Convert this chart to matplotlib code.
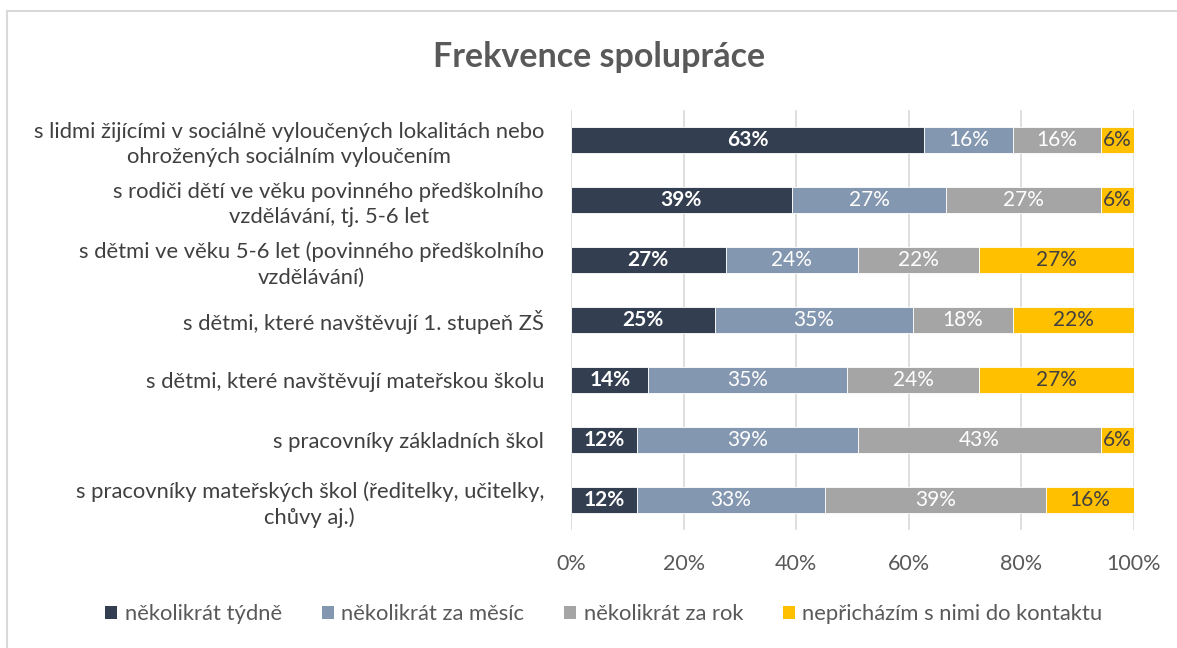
import matplotlib
matplotlib.use("Agg")
import matplotlib.pyplot as plt
from matplotlib.lines import Line2D
from matplotlib.patches import Patch

plt.rcParams['font.family'] = ['Lato', 'DejaVu Sans']

categories = [
    "s lidmi žijícími v sociálně vyloučených lokalitách nebo\nohrožených sociálním vyloučením",
    "s rodiči dětí ve věku povinného předškolního\nvzdělávání, tj. 5-6 let",
    "s dětmi ve věku 5-6 let (povinného předškolního\nvzdělávání)",
    "s dětmi, které navštěvují 1. stupeň ZŠ",
    "s dětmi, které navštěvují mateřskou školu",
    "s pracovníky základních škol",
    "s pracovníky mateřských škol (ředitelky, učitelky,\nchůvy aj.)",
]
series_names = ["několikrát týdně", "několikrát za měsíc", "několikrát za rok",
                "nepřicházím s nimi do kontaktu"]
tydne  = [62.75, 39.22, 27.45, 25.49, 13.73, 11.76, 11.76]
mesic  = [15.69, 27.45, 23.53, 35.29, 35.29, 39.22, 33.33]
rok    = [15.69, 27.45, 21.57, 17.65, 23.53, 43.14, 39.22]
nikdy  = [5.88, 5.88, 27.45, 21.57, 27.45, 5.88, 15.69]
xticks = [0, 20, 40, 60, 80, 100]
xticklabels = ["0%", "20%", "40%", "60%", "80%", "100%"]

colors = ["#333F50", "#8497B0", "#A5A5A5", "#FFC000"]
label_colors = ["white", "white", "white", "#404040"]
label_weights = ["bold", "normal", "normal", "normal"]

fig = plt.figure(figsize=(11.77, 6.48), dpi=100)
ax = fig.add_axes([571/1177, 1 - 530/648, (1134-571)/1177, 420/648])

ypos = list(range(len(categories)))
left = [0.0] * len(categories)
for vals, col, lc, lw in zip([tydne, mesic, rok, nikdy], colors, label_colors, label_weights):
    bars = ax.barh(ypos, vals, left=left, height=0.42, color=col, edgecolor="white",
                   linewidth=0.6, zorder=3)
    for b, v in zip(bars, vals):
        ax.text(b.get_x() + b.get_width() / 2, b.get_y() + b.get_height() / 2,
                f"{v:.0f}%", ha="center", va="center", color=lc, fontsize=15,
                fontweight=lw, zorder=4)
    left = [l + v for l, v in zip(left, vals)]

ax.set_xlim(0, 100)
ax.set_ylim(len(categories) - 0.5, -0.5)
ax.set_xticks(xticks)
ax.set_xticklabels(xticklabels, color="#595959", fontsize=15.5)
ax.set_yticks(ypos)
ax.set_yticklabels(categories, color="#404040", fontsize=15.8, ha="right",
                   multialignment="center", linespacing=1.32)
ax.tick_params(axis="y", length=0, pad=19.5)
ax.tick_params(axis="x", length=0, pad=17)
ax.grid(axis="x", color="#D9D9D9", linewidth=1.2, zorder=0)
for s in ax.spines.values():
    s.set_visible(False)

fig.text(599/1177, 1 - 57/648, "Frekvence spolupráce", ha="center", va="center",
         fontsize=24.5, fontweight="bold", color="#595959")

handles = [Patch(facecolor=c, edgecolor="none") for c in colors]
fig.legend(handles, series_names, loc="center", bbox_to_anchor=(604/1177, 1 - 614/648),
           ncol=4, frameon=False, fontsize=15.8, labelcolor="#595959",
           handlelength=0.55, handleheight=0.55, handletextpad=0.35, columnspacing=1.8)

fig.add_artist(Line2D([7/1177, 1], [1 - 11/648, 1 - 11/648], transform=fig.transFigure,
                      color="#D9D9D9", linewidth=1.5))
fig.add_artist(Line2D([7/1177, 7/1177], [0, 1 - 11/648], transform=fig.transFigure,
                      color="#D9D9D9", linewidth=1.5))

fig.savefig("out.png", dpi=100)
